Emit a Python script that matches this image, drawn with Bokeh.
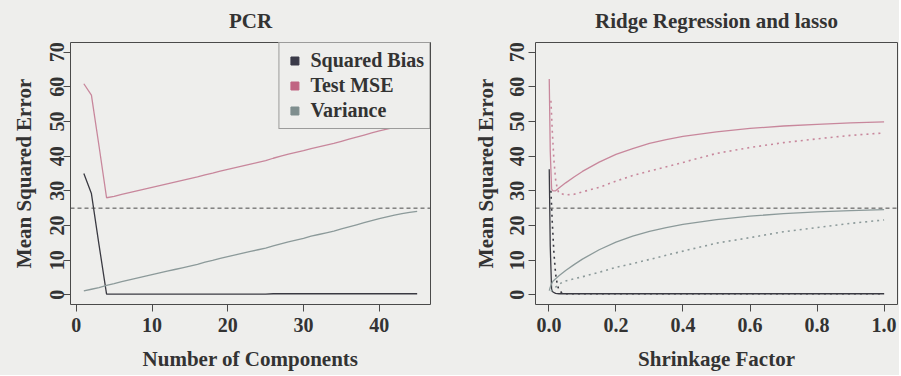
from bokeh.plotting import figure
from bokeh.layouts import row
from bokeh.models import Span, Legend, LegendItem, FixedTicker, PrintfTickFormatter, Range1d
from bokeh.embed import file_html
from bokeh.resources import INLINE

# ---------------- data ----------------
components = list(range(1, 46))
pcr_bias = [35.0, 29.2, 14.5, 0.2, 0.2, 0.2, 0.2, 0.2, 0.2, 0.2,
            0.2, 0.2, 0.2, 0.2, 0.2, 0.2, 0.2, 0.2, 0.2, 0.2,
            0.2, 0.2, 0.2, 0.2, 0.2, 0.3, 0.3, 0.3, 0.3, 0.3,
            0.3, 0.3, 0.3, 0.3, 0.3, 0.3, 0.3, 0.3, 0.3, 0.3,
            0.3, 0.3, 0.3, 0.3, 0.3]
pcr_var = [1.1, 1.6, 2.1, 2.7, 3.2, 3.8, 4.3, 4.8, 5.3, 5.8,
           6.3, 6.8, 7.3, 7.8, 8.3, 8.8, 9.4, 9.9, 10.5, 11.0,
           11.5, 12.0, 12.5, 13.0, 13.5, 14.1, 14.7, 15.3, 15.8, 16.3,
           16.9, 17.4, 17.9, 18.4, 19.0, 19.6, 20.2, 20.8, 21.4, 22.0,
           22.5, 23.0, 23.4, 23.8, 24.1]
pcr_mse = [60.9, 57.6, 43.0, 28.0, 28.4, 29.0, 29.5, 30.0, 30.5, 31.0,
           31.5, 32.0, 32.5, 33.0, 33.5, 34.0, 34.6, 35.1, 35.7, 36.2,
           36.7, 37.2, 37.7, 38.2, 38.7, 39.4, 40.0, 40.6, 41.1, 41.6,
           42.2, 42.7, 43.2, 43.7, 44.3, 44.9, 45.5, 46.1, 46.7, 47.3,
           47.8, 48.3, 48.7, 48.9, 48.9]

ridge_x = [0.001, 0.004, 0.008, 0.012, 0.02, 0.03, 0.05, 0.075, 0.1, 0.15, 0.2,
           0.25, 0.3, 0.35, 0.4, 0.5, 0.6, 0.7, 0.8, 0.9, 1.0]
ridge_bias = [36.2, 14.0, 1.6, 0.8, 0.4, 0.3, 0.3, 0.3, 0.3, 0.3, 0.3,
              0.3, 0.3, 0.3, 0.3, 0.3, 0.3, 0.3, 0.3, 0.3, 0.3]
ridge_var = [1.2, 2.2, 3.2, 3.9, 4.6, 5.5, 7.0, 8.7, 10.3, 13.0, 15.2,
             16.9, 18.3, 19.4, 20.3, 21.7, 22.7, 23.4, 23.9, 24.3, 24.6]
ridge_mse = [62.3, 41.5, 30.5, 30.0, 30.0, 30.8, 32.3, 34.0, 35.6, 38.3, 40.5,
             42.2, 43.7, 44.8, 45.7, 47.0, 48.0, 48.7, 49.2, 49.6, 49.9]

lasso_x = [0.006, 0.01, 0.015, 0.02, 0.025, 0.03, 0.04, 0.05, 0.075, 0.1, 0.15,
           0.2, 0.25, 0.3, 0.4, 0.5, 0.6, 0.7, 0.8, 0.9, 1.0]
lasso_bias = [30.0, 21.0, 12.0, 6.0, 3.0, 1.3, 0.5, 0.3, 0.3, 0.3, 0.3,
              0.3, 0.3, 0.3, 0.3, 0.3, 0.3, 0.3, 0.3, 0.3, 0.3]
lasso_var = [1.0, 1.4, 1.8, 2.2, 2.6, 3.0, 3.6, 4.0, 4.6, 5.2, 6.5,
             7.9, 9.0, 10.2, 12.6, 14.9, 16.5, 18.2, 19.4, 20.6, 21.6]
lasso_mse = [56.0, 47.4, 38.8, 33.2, 30.6, 29.3, 29.1, 28.8, 29.0, 29.7, 31.0,
             32.8, 34.4, 35.7, 38.2, 40.8, 42.5, 43.9, 45.0, 46.0, 46.7]

irreducible = 25
x_ticks_pcr = [0, 10, 20, 30, 40]
x_ticks_shrink = [0.0, 0.2, 0.4, 0.6, 0.8, 1.0]
y_ticks = [0, 10, 20, 30, 40, 50, 60, 70]
legend_labels = ["Squared Bias", "Test MSE", "Variance"]

# ---------------- style ----------------
BG = "#eeeeec"
FONT = "Liberation Serif"
TXT = "#333333"
EDGE = "#4a4a4a"
C_BIAS = "#3a3a42"
C_MSE = "#c8879c"
C_VAR = "#8c9a9a"
LEG_COLORS = ["#3a3a48", "#c06482", "#7f8e8e"]


def style(p, xticks, y_std, ylab_std):
    p.background_fill_color = BG
    p.border_fill_color = BG
    p.outline_line_color = EDGE
    p.outline_line_width = 1
    p.grid.visible = False
    p.title.text_font = FONT
    p.title.text_font_size = "21px"
    p.title.text_font_style = "bold"
    p.title.align = "center"
    p.title.vertical_align = "top"
    p.title.text_color = TXT
    p.title.standoff = 16
    p.title.offset = 2
    for ax in p.axis:
        ax.axis_line_color = None
        ax.major_tick_line_color = EDGE
        ax.major_tick_out = 7
        ax.major_tick_in = 0
        ax.minor_tick_line_color = None
        ax.major_label_text_font = FONT
        ax.major_label_text_font_size = "20px"
        ax.major_label_text_font_style = "bold"
        ax.major_label_text_color = TXT
        ax.axis_label_text_font = FONT
        ax.axis_label_text_font_size = "21px"
        ax.axis_label_text_font_style = "bold"
        ax.axis_label_text_color = TXT
    p.xaxis.ticker = FixedTicker(ticks=xticks)
    p.yaxis.ticker = FixedTicker(ticks=y_ticks)
    p.yaxis.major_label_orientation = "parallel"
    p.xaxis.major_label_standoff = 6
    p.xaxis.axis_label_standoff = 12
    p.yaxis.major_label_standoff = y_std
    p.yaxis.axis_label_standoff = ylab_std
    p.add_layout(Span(location=irreducible, dimension="width", line_dash="4 3",
                      line_color=EDGE, line_width=1))


left = figure(width=450, height=375, min_border_left=70, min_border_right=20,
              min_border_top=41, min_border_bottom=71,
              x_range=Range1d(-0.76, 46.76), y_range=Range1d(-2.8, 72.8),
              title="PCR", x_axis_label="Number of Components",
              y_axis_label="Mean Squared Error",
              output_backend="svg", toolbar_location=None)
style(left, x_ticks_pcr, -1, 12)

left.line(components, pcr_bias, line_color=C_BIAS, line_width=1.3)
left.line(components, pcr_mse, line_color=C_MSE, line_width=1.3)
left.line(components, pcr_var, line_color=C_VAR, line_width=1.3)

# legend keys: zero-size squares on the series (only the legend swatch shows)
series = [pcr_bias, pcr_mse, pcr_var]
leg_renderers = []
for c, s in zip(LEG_COLORS, series):
    leg_renderers.append(left.scatter(x=components, y=s, marker="square", size=0,
                                      fill_color=c, line_color=c))
legend = Legend(items=[LegendItem(label=l, renderers=[r])
                       for l, r in zip(legend_labels, leg_renderers)],
                location="top_right", margin=0, padding=5, spacing=0,
                label_height=25, glyph_height=25, glyph_width=20, label_standoff=6,
                label_text_font=FONT, label_text_font_size="20px",
                label_text_font_style="bold", label_text_color=TXT,
                border_line_color=EDGE, border_line_width=1,
                background_fill_color=BG, background_fill_alpha=1.0)
left.add_layout(legend)

right = figure(width=449, height=375, min_border_left=85, min_border_right=2,
               min_border_top=41, min_border_bottom=71,
               x_range=Range1d(-0.04, 1.04), y_range=Range1d(-2.8, 72.8),
               title="Ridge Regression and lasso", x_axis_label="Shrinkage Factor",
               y_axis_label="Mean Squared Error",
               output_backend="svg", toolbar_location=None)
style(right, x_ticks_shrink, 4, 10)
right.xaxis.formatter = PrintfTickFormatter(format="%.1f")

right.line(ridge_x, ridge_bias, line_color=C_BIAS, line_width=1.3)
right.line(ridge_x, ridge_mse, line_color=C_MSE, line_width=1.3)
right.line(ridge_x, ridge_var, line_color=C_VAR, line_width=1.3)
right.line(lasso_x, lasso_bias, line_color=C_BIAS, line_width=1.6, line_dash="2 4")
right.line(lasso_x, lasso_mse, line_color=C_MSE, line_width=1.6, line_dash="2 4")
right.line(lasso_x, lasso_var, line_color=C_VAR, line_width=1.6, line_dash="2 4")

layout = row(left, right)
layout.styles = {"background-color": BG}
open("out.html", "w").write(file_html(layout, INLINE))
